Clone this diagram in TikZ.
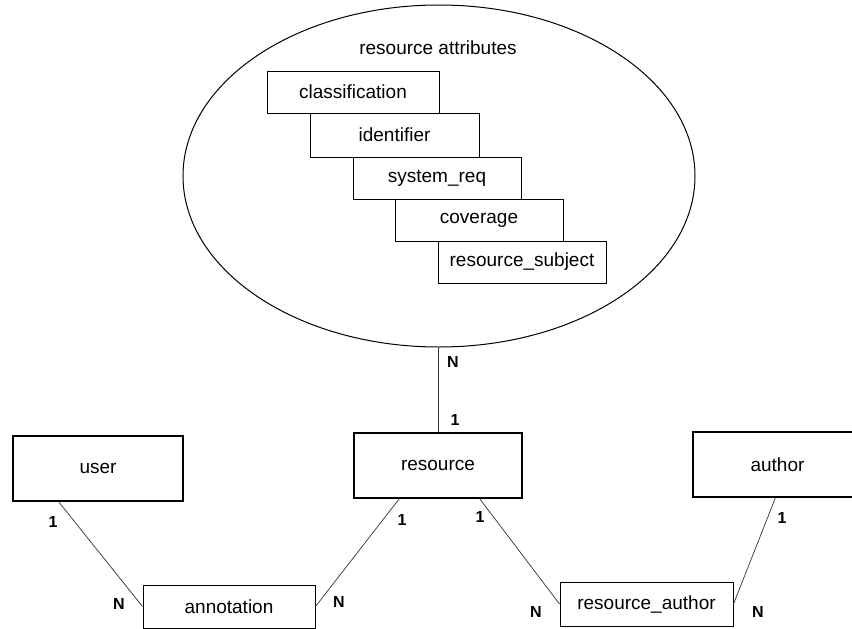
\documentclass[tikz,border=0pt]{standalone}
\usepackage{fontspec}
\setmainfont{Liberation Sans}
\usetikzlibrary{shapes.geometric,calc}

\tikzset{
  boxfont/.style={font=\fontsize{19}{21}\selectfont},
  entity/.style={draw, line width=1.1pt, inner sep=0pt, minimum width=168pt,
    minimum height=65pt, boxfont},
  attr/.style={draw, line width=1.0pt, inner sep=0pt, minimum width=168pt,
    minimum height=42pt, fill=white, boxfont},
  relbox/.style={draw, line width=1.0pt, inner sep=0pt, minimum width=172pt,
    minimum height=43pt, boxfont},
  link/.style={line width=0.7pt, draw=black!80},
  card/.style={inner sep=0pt, font=\bfseries\fontsize{16}{18}\selectfont},
}

\begin{document}
\begin{tikzpicture}[x=1pt, y=-1pt]
  \useasboundingbox (0,0) rectangle (852,629);

  % attribute group
  \node[ellipse, draw, line width=1.0pt, inner sep=0pt,
        minimum width=512pt, minimum height=342pt] (attrs) at (439,176) {};
  \node[boxfont] (title) at (438,48) {resource attributes};

  \node[attr, minimum width=172pt] (classification) at (353,92) {classification};
  \node[attr, minimum width=169pt, minimum height=44pt] (identifier) at (394.5,135) {identifier};
  \node[attr] (systemreq) at (437,178) {system\_req};
  \node[attr] (coverage) at (479,220) {coverage};
  \node[attr] (subject) at (522,262) {resource\_subject};

  % entities
  \node[entity, minimum width=170pt] (user) at (98,468.5) {user};
  \node[entity] (resource) at (438,465.5) {resource};
  \node[entity, minimum width=169pt] (author) at (777.5,464.5) {author};

  % relation tables
  \node[relbox] (annotation) at (229,606.5) {annotation};
  \node[relbox, minimum width=173pt, minimum height=44pt] (resauthor) at (646.5,604) {resource\_author};

  % connectors
  \draw[link] (resource.north) -- (resource.north |- attrs.south);
  \draw[link] ($(user.south west)+(46,0)$) -- (annotation.west);
  \draw[link] ($(resource.south west)+(46,0)$) -- (annotation.east);
  \draw[link] ($(resource.south east)+(-43,0)$) -- (resauthor.west);
  \draw[link] ($(author.south)+(-2,0)$) -- (resauthor.east);

  % cardinalities
  \node[card] (c1) at (453,362) {N};
  \node[card] (c2) at (455,420) {1};
  \node[card] (c3) at (53,522) {1};
  \node[card] (c4) at (119,604) {N};
  \node[card] (c5) at (402,520) {1};
  \node[card] (c6) at (339,602) {N};
  \node[card] (c7) at (480,517) {1};
  \node[card] (c8) at (536,612) {N};
  \node[card] (c9) at (782,518) {1};
  \node[card] (c10) at (758,612) {N};
\end{tikzpicture}
\end{document}
